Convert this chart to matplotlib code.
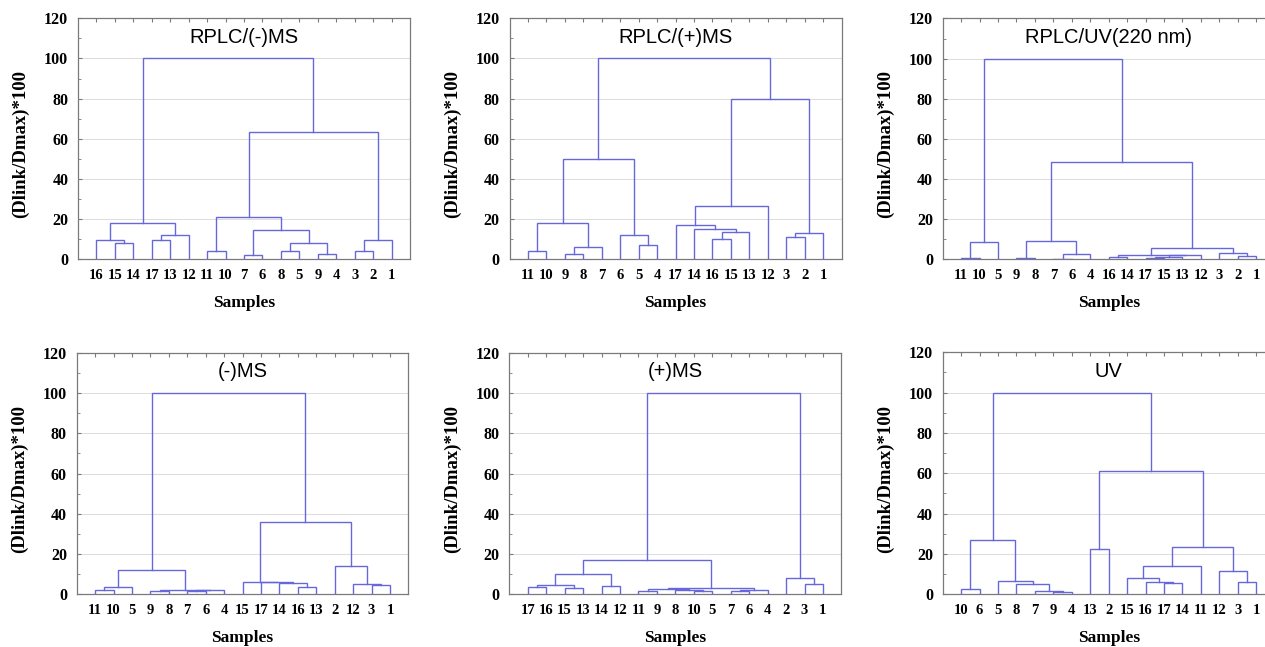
#!/usr/bin/env python3
"""
Six hierarchical-clustering dendrograms (STATISTICA style), 2 x 3 grid.
Each tree is given as the leaf order plus a linkage list:
(a, b, height) where a, b < 17 index the leaf position and
ids >= 17 refer to earlier rows of the same list.
"""

import numpy as np
import matplotlib
matplotlib.use('Agg')
import matplotlib.pyplot as plt

LINE = '#6767dc'
FRAME = '#7a7a7a'
SERIF = 'Liberation Serif'
SANS = 'Liberation Sans'

# ---------------------------------------------------------------- data
titles = ['RPLC/(-)MS', 'RPLC/(+)MS', 'RPLC/UV(220 nm)',
          '(-)MS', '(+)MS', 'UV']

leaves_1 = [16, 15, 14, 17, 13, 12, 11, 10, 7, 6, 8, 5, 9, 4, 3, 2, 1]
links_1 = [(1, 2, 8.3), (0, 17, 9.8), (3, 4, 9.8), (19, 5, 12.0),
           (18, 20, 18.2), (6, 7, 4.2), (8, 9, 2.0), (10, 11, 4.2),
           (12, 13, 2.7), (24, 25, 8.3), (23, 26, 14.8), (22, 27, 21.0),
           (14, 15, 4.2), (29, 16, 9.8), (28, 30, 63.4), (21, 31, 100.0)]

leaves_2 = [11, 10, 9, 8, 7, 6, 5, 4, 17, 14, 16, 15, 13, 12, 3, 2, 1]
links_2 = [(0, 1, 4.3), (2, 3, 2.7), (18, 4, 6.3), (17, 19, 18.2),
           (6, 7, 7.0), (5, 21, 12.0), (20, 22, 50.0), (10, 11, 10.3),
           (24, 12, 13.6), (9, 25, 15.0), (8, 26, 17.0), (27, 13, 26.7),
           (14, 15, 11.0), (29, 16, 13.0), (28, 30, 80.0), (23, 31, 100.0)]

leaves_3 = [11, 10, 5, 9, 8, 7, 6, 4, 16, 14, 17, 15, 13, 12, 3, 2, 1]
links_3 = [(0, 1, 0.5), (17, 2, 8.8), (3, 4, 0.5), (5, 6, 0.3),
           (20, 7, 2.5), (19, 21, 9.3), (8, 9, 1.0), (10, 11, 0.5),
           (24, 12, 1.3), (25, 13, 2.0), (23, 26, 2.3), (15, 16, 1.5),
           (14, 28, 3.0), (27, 29, 5.5), (22, 30, 48.3), (18, 31, 100.0)]

leaves_4 = [11, 10, 5, 9, 8, 7, 6, 4, 15, 17, 14, 16, 13, 2, 12, 3, 1]
links_4 = [(0, 1, 2.0), (17, 2, 3.6), (3, 4, 1.5), (5, 6, 1.7),
           (20, 7, 2.0), (19, 21, 2.3), (18, 22, 12.3), (11, 12, 3.6),
           (10, 24, 5.4), (9, 25, 5.9), (8, 26, 6.3), (15, 16, 4.6),
           (14, 28, 5.1), (13, 29, 14.3), (27, 30, 35.7), (23, 31, 100.0)]

leaves_5 = [17, 16, 15, 13, 14, 12, 11, 9, 8, 10, 5, 7, 6, 4, 2, 3, 1]
links_5 = [(0, 1, 3.6), (2, 3, 3.3), (17, 18, 4.5), (4, 5, 4.3),
           (19, 20, 9.9), (6, 7, 1.8), (9, 10, 1.6), (8, 23, 2.0),
           (22, 24, 2.6), (11, 12, 1.5), (26, 13, 2.2), (25, 27, 3.3),
           (21, 28, 17.2), (15, 16, 5.3), (14, 30, 8.0), (29, 31, 100.0)]

leaves_6 = [10, 6, 5, 8, 7, 9, 4, 13, 2, 15, 16, 17, 14, 11, 12, 3, 1]
links_6 = [(0, 1, 2.6), (5, 6, 1.3), (4, 18, 1.7), (3, 19, 5.3),
           (2, 20, 6.6), (17, 21, 26.8), (7, 8, 22.3), (11, 12, 5.8),
           (10, 24, 6.3), (9, 25, 8.3), (26, 13, 14.2), (15, 16, 6.3),
           (14, 28, 11.6), (27, 29, 23.6), (23, 30, 61.0), (22, 31, 100.0)]

all_leaves = [leaves_1, leaves_2, leaves_3, leaves_4, leaves_5, leaves_6]
all_links = [links_1, links_2, links_3, links_4, links_5, links_6]

# axes boxes in pixels of the 1265 x 647 figure: left, right, top, bottom
W, H = 1265, 647
boxes = [(78, 410, 18.3, 259.3), (509.5, 841.6, 18.3, 259.3),
         (942.7, 1274.7, 18.5, 259.3), (76.7, 408.4, 352.7, 594.3),
         (509.3, 841.4, 352.7, 594.3), (942.7, 1274.7, 352.3, 594.3)]


def draw_tree(ax, leaves, links):
    n = len(leaves)
    xs = list(np.arange(1, n + 1, dtype=float))
    hs = [0.0] * n
    for a, b, h in links:
        ax.plot([xs[a], xs[a], xs[b], xs[b]], [hs[a], h, h, hs[b]],
                color=LINE, lw=1.0, solid_joinstyle='miter', zorder=3)
        xs.append(0.5 * (xs[a] + xs[b]))
        hs.append(h)


fig = plt.figure(figsize=(W / 100, H / 100), dpi=100)

for k in range(6):
    l, r, t, b = boxes[k]
    ax = fig.add_axes([l / W, 1 - b / H, (r - l) / W, (b - t) / H])
    n = len(all_leaves[k])
    draw_tree(ax, all_leaves[k], all_links[k])

    ax.set_xlim(0, n + 1)
    ax.set_ylim(0, 120)
    ax.set_xticks(np.arange(1, n + 1))
    ax.set_xticklabels([str(v) for v in all_leaves[k]],
                       family=SERIF, fontweight='bold', fontsize=10.5)
    ax.set_yticks(np.arange(0, 121, 20))
    ax.set_yticklabels([str(v) for v in range(0, 121, 20)],
                       family=SERIF, fontweight='bold', fontsize=11.5)
    ax.set_yticks(np.arange(0, 121, 10), minor=True)
    ax.tick_params(axis='x', bottom=False, top=True, direction='in',
                   length=3, color=FRAME, pad=7)
    ax.tick_params(axis='y', which='both', left=True, direction='in',
                   color=FRAME, pad=7)
    ax.tick_params(axis='y', which='major', length=3)
    ax.tick_params(axis='y', which='minor', length=2)

    for g in range(20, 101, 20):
        ax.axhline(g, color='#dcdcdc', lw=0.7, zorder=1)
    for s in ax.spines.values():
        s.set_color(FRAME)
        s.set_linewidth(0.9)

    ax.text(0.5, 0.922, titles[k], transform=ax.transAxes, ha='center',
            va='center', family=SANS, fontsize=14.5)
    ax.set_ylabel('(Dlink/Dmax)*100', family=SERIF, fontweight='bold',
                  fontsize=13.5)
    ax.yaxis.label.set_va('center')
    ax.yaxis.set_label_coords(-0.172, 0.478)
    ax.set_xlabel('Samples', family=SERIF, fontweight='bold', fontsize=12.5)
    ax.xaxis.set_label_coords(0.5, -0.181)
    ax.xaxis.label.set_va('center')

fig.savefig('out.png', dpi=100)
